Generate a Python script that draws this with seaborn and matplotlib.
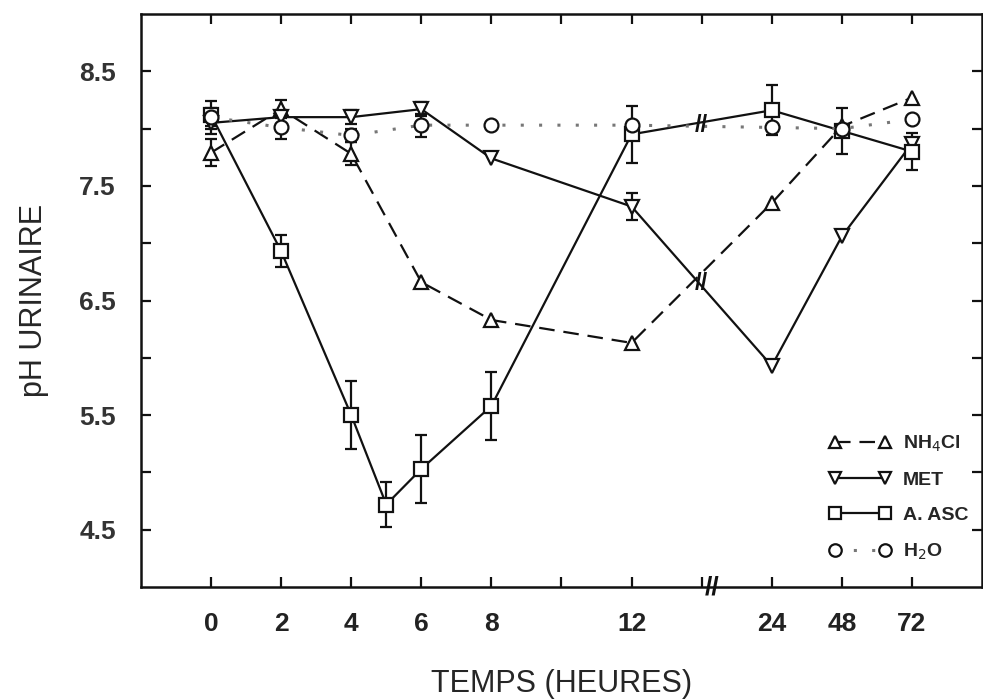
import numpy as np
import pandas as pd
import matplotlib
matplotlib.use("Agg")
import matplotlib.pyplot as plt
import seaborn as sns

# Sampling times (hours) and their position on the broken time axis
hours = [0, 2, 4, 5, 6, 8, 12, 24, 48, 72]
axis_pos = {0: 0, 2: 2, 4: 4, 5: 5, 6: 6, 8: 8, 12: 12, 24: 16, 48: 18, 72: 20}
tick_hours = [0, 2, 4, 6, 8, 12, 24, 48, 72]
tick_labels = ["0", "2", "4", "6", "8", "12", "24", "48", "72"]

# Urinary pH per treatment
nh4cl_t = [0, 2, 4, 6, 8, 12, 24, 48, 72]
nh4cl_ph = [7.79, 8.17, 7.78, 6.66, 6.33, 6.13, 7.35, 8.02, 8.27]
nh4cl_err = [0.12, 0.08, 0.10, 0.0, 0.0, 0.0, 0.0, 0.0, 0.0]

met_t = [0, 2, 4, 6, 8, 12, 24, 48, 72]
met_ph = [8.05, 8.10, 8.10, 8.17, 7.74, 7.32, 5.93, 7.06, 7.87]
met_err = [0.10, 0.06, 0.06, 0.06, 0.0, 0.12, 0.0, 0.0, 0.0]

asc_t = [0, 2, 4, 5, 6, 8, 12, 24, 48, 72]
asc_ph = [8.12, 6.93, 5.50, 4.72, 5.03, 5.58, 7.95, 8.16, 7.98, 7.80]
asc_err = [0.12, 0.14, 0.30, 0.20, 0.30, 0.30, 0.25, 0.22, 0.20, 0.16]

h2o_t = [0, 2, 4, 6, 8, 12, 24, 48, 72]
h2o_ph = [8.10, 8.01, 7.94, 8.03, 8.03, 8.03, 8.01, 8.00, 8.08]
h2o_err = [0.08, 0.10, 0.06, 0.10, 0.0, 0.0, 0.0, 0.0, 0.0]

series = [
    ("NH$_4$Cl", nh4cl_t, nh4cl_ph, nh4cl_err),
    ("MET", met_t, met_ph, met_err),
    ("A. ASC", asc_t, asc_ph, asc_err),
    ("H$_2$O", h2o_t, h2o_ph, h2o_err),
]

rows = []
for name, t, ph, err in series:
    for ti, pi, ei in zip(t, ph, err):
        rows.append({"groupe": name, "heure": ti, "pos": axis_pos[ti], "ph": pi, "err": ei})
df = pd.DataFrame(rows)

sns.set_style("ticks")
plt.rcParams["font.family"] = ["Liberation Sans", "DejaVu Sans"]

fig = plt.figure(figsize=(9.83, 7.0), dpi=100)
ax = fig.add_axes([0.1434, 0.1614, 0.8556, 0.8186])

styles = {
    "NH$_4$Cl": dict(marker="^", ls=(0, (7, 4)), color="#111111", lw=1.6),
    "MET": dict(marker="v", ls="-", color="#111111", lw=1.6),
    "A. ASC": dict(marker="s", ls="-", color="#111111", lw=1.6),
    "H$_2$O": dict(marker="o", ls=(0, (1, 5)), color="#777777", lw=2.2),
}

for name, *_ in series:
    sub = df[df["groupe"] == name]
    st = styles[name]
    sns.lineplot(data=sub, x="pos", y="ph", ax=ax, color=st["color"],
                 linewidth=st["lw"], linestyle=st["ls"], marker=st["marker"],
                 markersize=10, markerfacecolor="white", markeredgecolor="#111111",
                 markeredgewidth=1.6, label=name, legend=False, zorder=3)
    has = sub[sub["err"] > 0]
    ax.errorbar(has["pos"], has["ph"], yerr=has["err"], fmt="none",
                ecolor="#111111", elinewidth=1.6, capsize=4, capthick=1.6, zorder=2)

# axis break marks on the curves and on the time axis
for yb in [8.03, 6.65]:
    ax.text(14, yb, "//", ha="center", va="center", fontsize=17,
            fontweight="bold", color="#111111", zorder=5)
ax.text(14.3, 4.0, "//", ha="center", va="center", fontsize=19,
        fontweight="bold", color="#111111", zorder=5, clip_on=False)

ax.set_xlim(-2, 22)
ax.set_ylim(4.0, 9.0)
ax.set_xticks([axis_pos[h] for h in tick_hours])
ax.set_xticklabels(tick_labels)
ax.set_yticks([4.5, 5.5, 6.5, 7.5, 8.5])
ax.set_yticklabels(["4.5", "5.5", "6.5", "7.5", "8.5"])
ax.set_yticks([5.0, 6.0, 7.0, 8.0], minor=True)
ax.set_xticks([10, 14], minor=True)

for s in ax.spines.values():
    s.set_linewidth(1.8)
    s.set_color("#111111")
ax.tick_params(axis="both", which="both", direction="in", top=True, right=True,
               length=7, width=1.6, color="#111111")
ax.tick_params(axis="x", which="major", labelsize=19, pad=18, labelcolor="#222222")
ax.tick_params(axis="y", which="major", labelsize=19, pad=18, labelcolor="#333333")
for lab in ax.get_xticklabels() + ax.get_yticklabels():
    lab.set_fontweight("bold")

ax.set_xlabel("TEMPS (HEURES)", fontsize=22, labelpad=24)
ax.set_ylabel("pH URINAIRE", fontsize=22, labelpad=22)

leg = ax.legend(loc="lower right", bbox_to_anchor=(1.0, 0.02), frameon=False,
                numpoints=2, handlelength=3.2, fontsize=14,
                labelspacing=0.9, handletextpad=0.6, borderaxespad=0.3)
for t in leg.get_texts():
    t.set_fontweight("bold")
for h in leg.legend_handles:
    h.set_markersize(9)

fig.savefig("out.png", dpi=100)
